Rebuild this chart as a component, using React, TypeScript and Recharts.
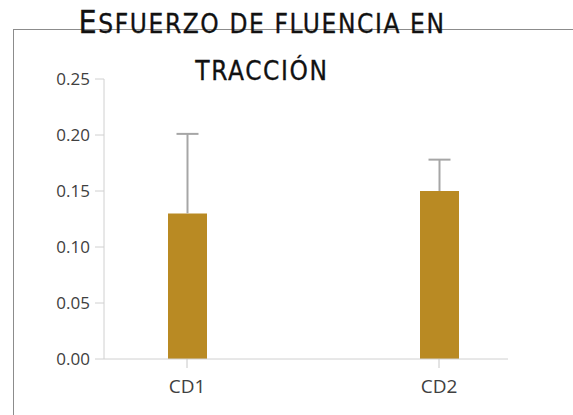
import React from 'react';
import { BarChart, Bar, XAxis, YAxis } from 'recharts';

const categories = ['CD1', 'CD2'];
const values = [0.13, 0.15];
const errorsUp = [0.071, 0.028];
const yTicks = [0, 0.05, 0.1, 0.15, 0.2, 0.25];

const data = categories.map((name, i) => ({ name, value: values[i], err: errorsUp[i] }));

// upper whisker only, drawn on top of the bar
const ErrShape = (props: any) => {
  const { x, y, width, height } = props;
  const cx = x + width / 2;
  return (
    <g>
      <line x1={cx} y1={y + height} x2={cx} y2={y} stroke="#a6a6a6" strokeWidth={2} />
      <line x1={cx - 11} y1={y} x2={cx + 11} y2={y} stroke="#a6a6a6" strokeWidth={2} />
    </g>
  );
};

const titleStyle: React.CSSProperties = {
  position: 'absolute',
  left: 0,
  width: 524,
  textAlign: 'center',
  fontFamily: '"DejaVu Sans Condensed", "DejaVu Sans", sans-serif',
  fontSize: 26,
  letterSpacing: 1.6,
  color: '#111',
  lineHeight: '34px',
  whiteSpace: 'nowrap',
  WebkitTextStroke: '0.3px #111',
};

const big: React.CSSProperties = { fontSize: 32 };
const small: React.CSSProperties = { textTransform: 'uppercase' };

export default function App() {
  return (
    <div style={{ position: 'absolute', left: 0, top: 0, width: 573, height: 415, background: '#fff', overflow: 'hidden' }}>
      {/* frame */}
      <div style={{ position: 'absolute', left: 13, top: 29, width: 560, height: 1, background: '#8c8c8c' }} />
      <div style={{ position: 'absolute', left: 13, top: 29, width: 1, height: 386, background: '#8c8c8c' }} />

      <div style={{ position: 'absolute', left: 0, top: 0 }}>
        <BarChart width={573} height={415} data={data} margin={{ top: 79, right: 65, left: 44, bottom: 26 }}>
          <XAxis
            dataKey="name"
            height={30}
            padding={{ left: -43, right: -57 }}
            axisLine={{ stroke: '#d0d0d0' }}
            tickLine={{ stroke: '#c8c8c8' }}
            tickSize={9}
            tickMargin={12}
            tick={{ fill: '#404040', fontSize: 19, fontFamily: 'Open Sans' }}
          />
          <YAxis
            width={60}
            domain={[0, 0.25]}
            ticks={yTicks}
            tickFormatter={(v: number) => v.toFixed(2)}
            axisLine={{ stroke: '#d0d0d0' }}
            tickLine={{ stroke: '#d0d0d0' }}
            tickSize={9}
            tickMargin={5}
            tick={{ fill: '#404040', fontSize: 17, fontFamily: 'Open Sans' }}
          />
          <Bar dataKey="value" stackId="a" fill="#b98a23" barSize={39} isAnimationActive={false} />
          <Bar dataKey="err" stackId="a" fill="none" barSize={39} shape={ErrShape} isAnimationActive={false} />
        </BarChart>
      </div>

      <div style={{ ...titleStyle, top: 5 }}>
        <span style={big}>E</span>
        <span style={small}>sfuerzo de fluencia en</span>
      </div>
      <div style={{ ...titleStyle, top: 54 }}>
        <span style={small}>tracción</span>
      </div>
    </div>
  );
}
